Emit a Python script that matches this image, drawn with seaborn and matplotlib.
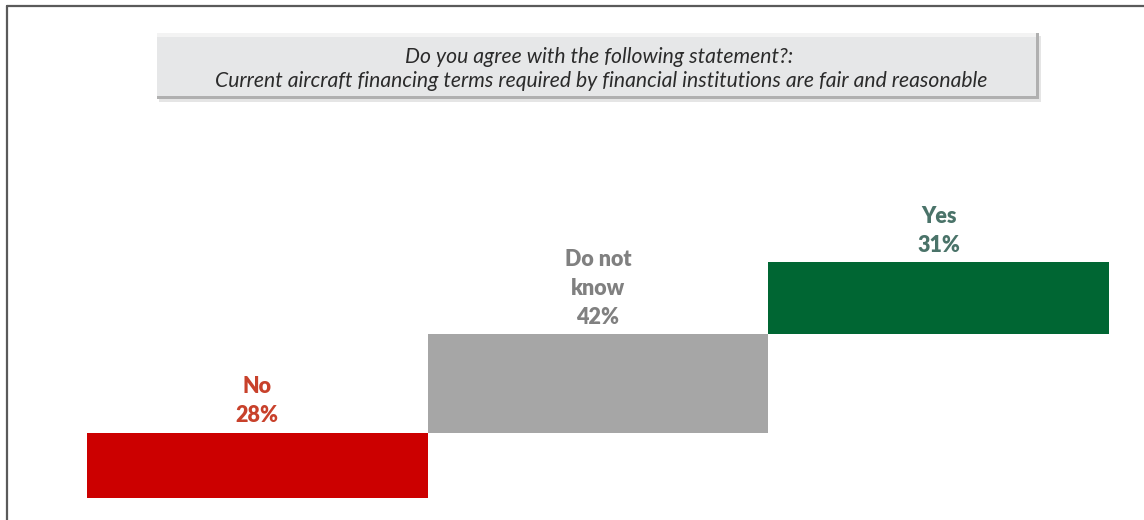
import matplotlib
matplotlib.use("Agg")
import matplotlib.pyplot as plt
from matplotlib.patches import Rectangle
from matplotlib.lines import Line2D
import seaborn as sns
import pandas as pd
import numpy as np

# Survey answers, in the order they step up
categories = ["No", "Do not know", "Yes"]
label_texts = ["No", "Do not\nknow", "Yes"]
shares = [28, 42, 31]
bar_colors = ["#cc0000", "#a6a6a6", "#006633"]
label_colors = ["#c8412b", "#808080", "#4a7369"]

title_lines = [
    "Do you agree with the following statement?:",
    "Current aircraft financing terms required by financial institutions are fair and reasonable",
]

sns.set_theme(style="white")
plt.rcParams["font.family"] = ["Lato", "DejaVu Sans"]

W, H = 1144, 520
fig = plt.figure(figsize=(W / 100, H / 100), dpi=100)
fig.patch.set_facecolor("white")

def fx(px):
    return px / W

def fy(py):
    return 1 - py / H

# Outer frame (left and top edges)
fig.add_artist(Line2D([fx(7), fx(7)], [fy(6), fy(525)], color="#5a5a5a", lw=1.6, transform=fig.transFigure))
fig.add_artist(Line2D([fx(7), fx(1150)], [fy(6), fy(6)], color="#5a5a5a", lw=1.6, transform=fig.transFigure))

# Question box with a soft bevel
bx0, bx1, by0, by1 = 157, 1039, 33, 99
fig.add_artist(Rectangle((fx(bx0 + 2), fy(by1 + 3)), fx(bx1 - bx0), (by1 - by0) / H,
                         transform=fig.transFigure, facecolor="#d4d4d4", edgecolor="none", alpha=0.6))
fig.add_artist(Rectangle((fx(bx0), fy(by1)), fx(bx1 - bx0), (by1 - by0) / H,
                         transform=fig.transFigure, facecolor="#b0b0b0", edgecolor="none"))
fig.add_artist(Rectangle((fx(bx0), fy(by1 - 3)), fx(bx1 - bx0 - 3), (by1 - by0 - 3) / H,
                         transform=fig.transFigure, facecolor="#e6e7e8", edgecolor="none"))
fig.add_artist(Rectangle((fx(bx0), fy(by0 + 4)), fx(bx1 - bx0 - 3), 4 / H,
                         transform=fig.transFigure, facecolor="#f3f3f3", edgecolor="none"))
fig.text(fx(599), fy(57), title_lines[0], ha="center", va="center",
         fontsize=15.2, style="italic", color="#2b2b2b")
fig.text(fx(601), fy(81), title_lines[1], ha="center", va="center",
         fontsize=15.2, style="italic", color="#2b2b2b")

# Floating step bars: each answer starts where the previous one ended
starts = np.concatenate([[0], np.cumsum(shares)[:-1]])
df = pd.DataFrame({"answer": categories, "share": shares, "start": starts})

ax = fig.add_axes([fx(87), 1 - 498 / H, fx(1109 - 87), 236 / H])
sns.barplot(data=df, x="answer", y="share", bottom=df["start"].values, width=1.0,
            errorbar=None, ax=ax, linewidth=0, order=categories, color=bar_colors[0],
            saturation=1)
for patch, col in zip(ax.patches, bar_colors):
    patch.set_facecolor(col)
    patch.set_edgecolor("none")

ax.set_xlim(-0.5, len(categories) - 0.5)
ax.set_ylim(0, sum(shares))
ax.axis("off")

for i, (txt, val, base, col) in enumerate(zip(label_texts, shares, starts, label_colors)):
    ax.annotate(f"{txt}\n{val}%", xy=(i, base + val), xytext=(0, 4.5), textcoords="offset points",
                ha="center", va="bottom", fontsize=15.5, fontweight="heavy", color=col,
                linespacing=1.48, annotation_clip=False)

fig.savefig("out.png", dpi=100, facecolor="white")
